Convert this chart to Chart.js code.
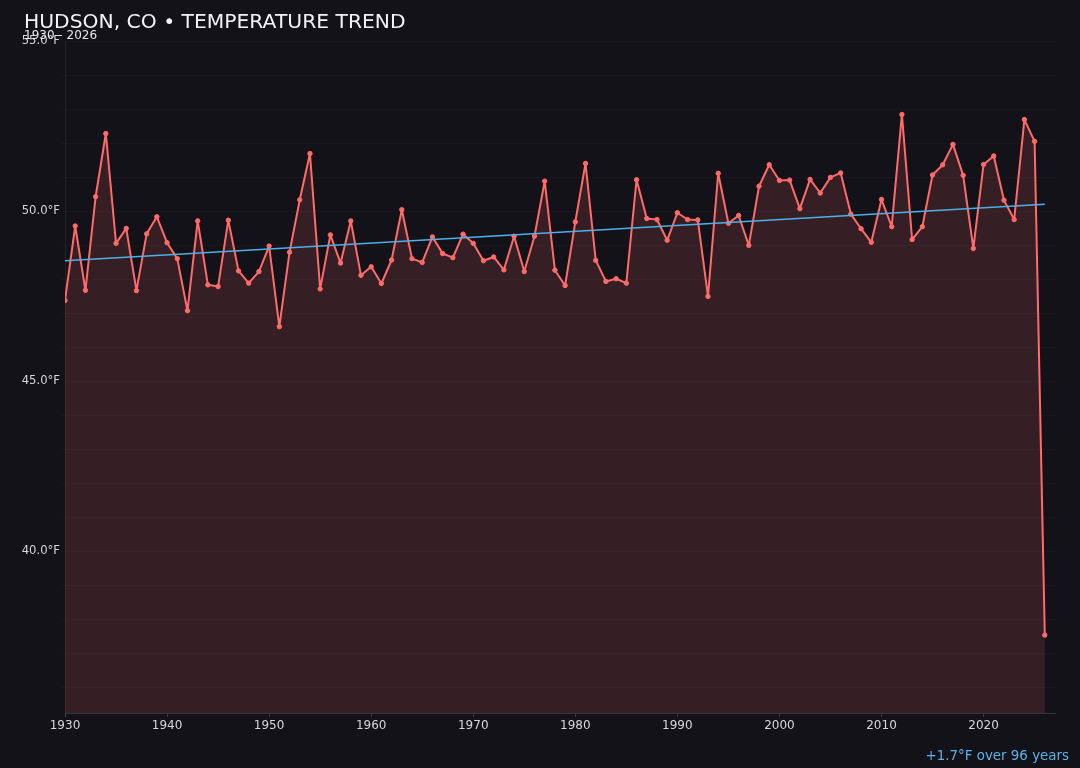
<!DOCTYPE html>
<html>
<head>
<meta charset="utf-8">
<script src="https://cdn.jsdelivr.net/npm/chart.js@4.4.1/dist/chart.umd.min.js"></script>
<style>
  html, body { margin:0; padding:0; background:#131218; }
  body { width:1080px; height:768px; position:relative; overflow:hidden; font-family:"DejaVu Sans", sans-serif; }
  #wrap { position:absolute; left:0; top:0; width:1080px; height:768px; }
  #title { position:absolute; left:24px; top:8px; font-size:20.3px; color:#f2f2f5; white-space:nowrap; line-height:26px; }
  #sub { position:absolute; left:24px; top:27px; font-size:12px; color:#e6e6ea; white-space:nowrap; line-height:16px; }
  #foot { position:absolute; right:11px; top:747px; font-size:13.4px; color:#5bb2e6; white-space:nowrap; line-height:18px; }
</style>
</head>
<body>
<div id="wrap"><canvas id="c" width="1080" height="768"></canvas></div>
<div id="title">HUDSON, CO • TEMPERATURE TREND</div>
<div id="sub">1930 - 2026</div>
<div id="foot">+1.7°F over 96 years</div>
<script>
const years = [1930,1931,1932,1933,1934,1935,1936,1937,1938,1939,
  1940,1941,1942,1943,1944,1945,1946,1947,1948,1949,
  1950,1951,1952,1953,1954,1955,1956,1957,1958,1959,
  1960,1961,1962,1963,1964,1965,1966,1967,1968,1969,
  1970,1971,1972,1973,1974,1975,1976,1977,1978,1979,
  1980,1981,1982,1983,1984,1985,1986,1987,1988,1989,
  1990,1991,1992,1993,1994,1995,1996,1997,1998,1999,
  2000,2001,2002,2003,2004,2005,2006,2007,2008,2009,
  2010,2011,2012,2013,2014,2015,2016,2017,2018,2019,
  2020,2021,2022,2023,2024,2025,2026];
const temps = [47.37,49.56,47.67,50.42,52.28,49.05,49.49,47.66,49.33,49.83,
  49.07,48.60,47.07,49.71,47.83,47.78,49.73,48.24,47.88,48.22,
  48.97,46.60,48.79,50.33,51.69,47.71,49.30,48.47,49.71,48.11,
  48.36,47.87,48.56,50.04,48.60,48.49,49.24,48.75,48.63,49.32,
  49.05,48.54,48.65,48.27,49.26,48.22,49.26,50.88,48.26,47.81,
  49.68,51.40,48.55,47.93,48.01,47.88,50.92,49.78,49.75,49.14,
  49.95,49.75,49.74,47.49,51.11,49.64,49.87,48.99,50.73,51.36,
  50.90,50.91,50.07,50.93,50.53,50.99,51.12,49.91,49.48,49.08,
  50.34,49.54,52.84,49.16,49.54,51.06,51.36,51.96,51.05,48.90,
  51.37,51.62,50.32,49.75,52.69,52.05,37.53];
const trendYears = [1930, 2026];
const trendTemps = [48.54, 50.20];
const xTickYears = [1930,1940,1950,1960,1970,1980,1990,2000,2010,2020];
const yLabelTemps = [40, 45, 50, 55];

const tempPoints = years.map((y, i) => ({x: y, y: temps[i]}));
const trendPoints = trendYears.map((y, i) => ({x: y, y: trendTemps[i]}));

Chart.defaults.font.family = '"DejaVu Sans", sans-serif';

new Chart(document.getElementById('c'), {
  type: 'line',
  data: {
    datasets: [
      {
        data: tempPoints,
        borderColor: '#ff6b6b',
        backgroundColor: 'rgba(255,107,107,0.15)',
        borderWidth: 2,
        borderJoinStyle: 'round',
        borderCapStyle: 'round',
        pointRadius: 2.2,
        pointBackgroundColor: '#ff6b6b',
        pointBorderColor: '#ff6b6b',
        pointBorderWidth: 1,
        fill: 'start',
        tension: 0,
        order: 2
      },
      {
        data: trendPoints,
        borderColor: '#4fb0e8',
        borderWidth: 1.5,
        pointRadius: 0,
        fill: false,
        order: 1
      }
    ]
  },
  options: {
    responsive: false,
    animation: false,
    devicePixelRatio: 1,
    layout: { padding: { left: 0, top: 41, right: 25, bottom: 0 } },
    plugins: { legend: { display: false }, tooltip: { enabled: false }, title: { display: false } },
    scales: {
      x: {
        type: 'linear',
        min: 1930,
        max: 2027,
        afterBuildTicks: s => { s.ticks = xTickYears.map(v => ({value: v})); },
        afterFit: s => { s.height = 55; },
        grid: { drawOnChartArea: false, drawTicks: true, tickLength: 4, color: 'rgba(255,255,255,0.18)' },
        border: { display: true, color: 'rgba(255,255,255,0.15)' },
        ticks: { color: '#d6d6dc', font: { size: 12 }, padding: 2, maxRotation: 0, callback: v => String(v) }
      },
      y: {
        min: 35.24,
        max: 55,
        afterBuildTicks: s => {
          const t = [];
          for (let v = 36; v <= 55; v++) t.push({value: v});
          s.ticks = t;
        },
        afterFit: s => { s.width = 65; },
        grid: { color: 'rgba(255,255,255,0.022)', drawTicks: true, tickLength: 4 },
        border: { display: true, color: 'rgba(255,255,255,0.07)' },
        ticks: {
          color: '#d6d6dc', font: { size: 11.6 }, padding: 1, autoSkip: false,
          callback: v => yLabelTemps.includes(v) ? v.toFixed(1) + '°F' : ''
        }
      }
    }
  }
});
</script>
</body>
</html>
